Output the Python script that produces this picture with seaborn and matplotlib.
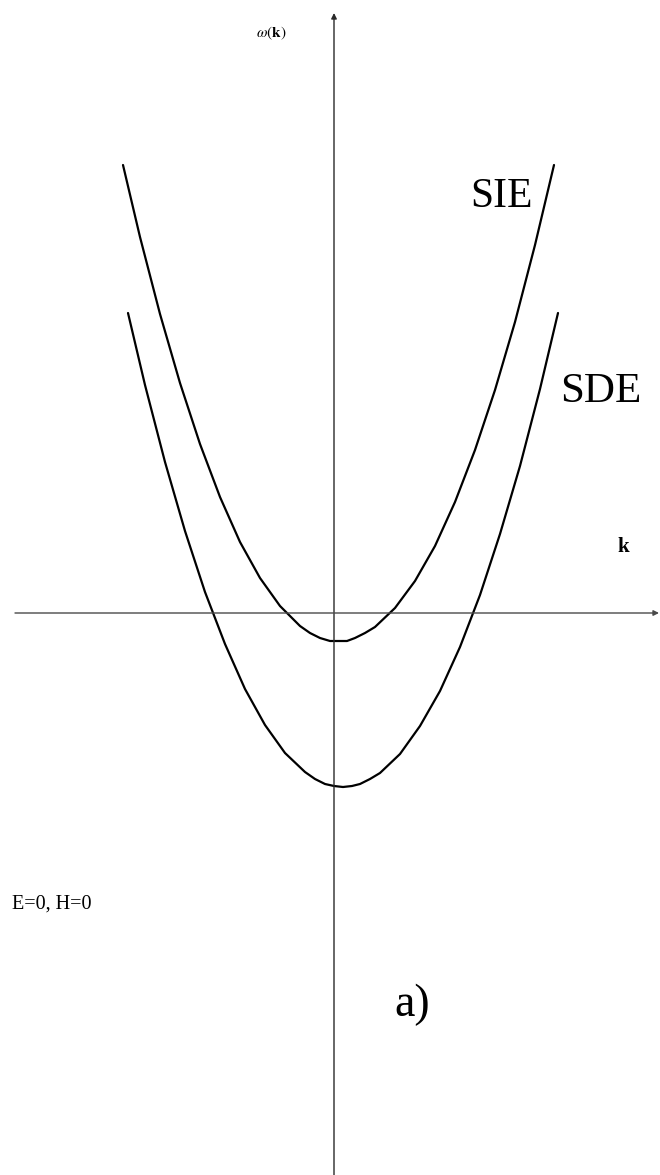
import pandas as pd
import matplotlib
matplotlib.use('Agg')
import matplotlib.pyplot as plt
import seaborn as sns

# dispersion curves (k, omega)
sie_k = [-2.11, -1.94, -1.74, -1.54, -1.34, -1.14, -0.94, -0.74, -0.54, -0.34, -0.24, -0.14, -0.04,
         0.04, 0.13, 0.21, 0.31, 0.41, 0.61, 0.81, 1.01, 1.21, 1.41, 1.61, 1.81, 2.01, 2.20]
sie_w = [4.48, 3.76, 2.99, 2.30, 1.69, 1.16, 0.71, 0.35, 0.07, -0.13, -0.20, -0.25, -0.28,
         -0.28, -0.28, -0.25, -0.20, -0.14, 0.05, 0.32, 0.67, 1.11, 1.63, 2.23, 2.91, 3.68, 4.48]

sde_k = [-2.06, -1.89, -1.69, -1.49, -1.29, -1.09, -0.89, -0.69, -0.49, -0.29, -0.19, -0.09, 0.00,
         0.09, 0.18, 0.26, 0.36, 0.46, 0.66, 0.86, 1.06, 1.26, 1.46, 1.66, 1.86, 2.06, 2.24]
sde_w = [3.00, 2.28, 1.51, 0.82, 0.21, -0.31, -0.76, -1.12, -1.40, -1.59, -1.66, -1.71, -1.73,
         -1.74, -1.73, -1.71, -1.66, -1.60, -1.41, -1.13, -0.78, -0.34, 0.18, 0.79, 1.47, 2.24, 3.00]

curve_labels = ['SIE', 'SDE']
corner_note = 'E=0, H=0'
panel_tag = 'a)'

df = pd.concat([
    pd.DataFrame({'k': sie_k, 'w': sie_w, 'branch': 'SIE'}),
    pd.DataFrame({'k': sde_k, 'w': sde_w, 'branch': 'SDE'}),
], ignore_index=True)

sns.set_style('white')
plt.rcParams['font.family'] = ['Liberation Serif', 'DejaVu Serif']
plt.rcParams['mathtext.fontset'] = 'stix'
plt.rcParams['text.color'] = 'black'

fig = plt.figure(figsize=(6.6, 11.75), dpi=100)
ax = fig.add_axes([0, 0, 1, 1])
ax.set_xlim(-3.34, 3.26)
ax.set_ylim(-5.62, 6.13)
ax.axis('off')

# coordinate axes with arrow heads
ax.annotate('', xy=(0, 6.00), xytext=(0, -5.62),
            arrowprops=dict(arrowstyle='-|>', lw=1.0, color='#2a2a2a', mutation_scale=8,
                            shrinkA=0, shrinkB=0))
ax.annotate('', xy=(3.25, 0), xytext=(-3.19, 0),
            arrowprops=dict(arrowstyle='-|>', lw=1.0, color='#4a4a4a', mutation_scale=8,
                            shrinkA=0, shrinkB=0))

sns.lineplot(data=df, x='k', y='w', units='branch', estimator=None, sort=False,
             color='black', lw=1.6, ax=ax, legend=False)

ax.text(1.36, 4.06, curve_labels[0], fontsize=30, va='baseline', ha='left', color='black')
ax.text(2.26, 2.11, curve_labels[1], fontsize=31, va='baseline', ha='left', color='black')
ax.text(-0.78, 5.76, r'$\omega(\mathbf{k})$', fontsize=11, va='baseline', ha='left', color='black')
ax.text(2.83, 0.61, 'k', fontsize=15, fontweight='bold', va='baseline', ha='left', color='black')
ax.text(-3.22, -2.96, corner_note, fontsize=14.5, va='baseline', ha='left', color='black')
ax.text(0.60, -4.03, panel_tag, fontsize=33, va='baseline', ha='left', color='black')

fig.savefig('out.png', dpi=100)
